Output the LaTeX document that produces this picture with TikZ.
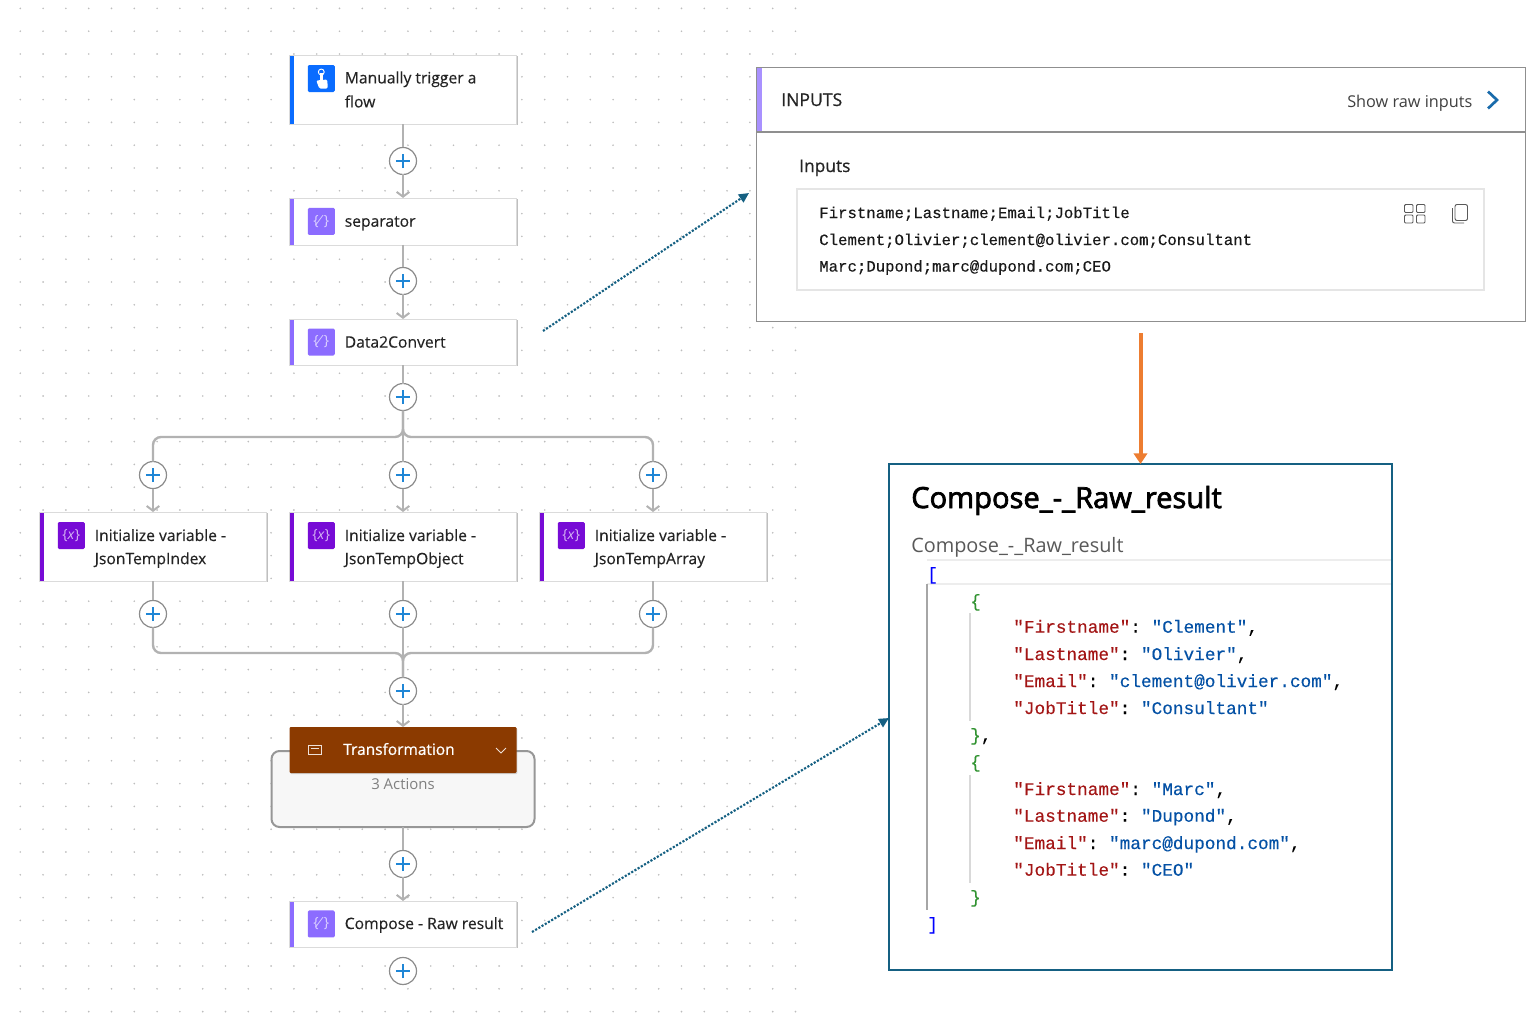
\documentclass[tikz,border=0pt]{standalone}
\usepackage{fontspec}
\setmainfont{Open Sans}
\newfontfamily\monofont{Liberation Mono}[FakeBold=0.25]
\newfontfamily\cardfont{Open Sans}[FakeBold=0.3]
\newfontfamily\medfont{Open Sans}[FakeBold=0.7]
\newfontfamily\titlefont{Open Sans}[FakeBold=2.5]
\usepackage{xcolor}
\usetikzlibrary{arrows.meta, positioning, shadows}
\definecolor{flowGray}{HTML}{B2B2B2}
\definecolor{flowRing}{HTML}{8C8C8C}
\definecolor{flowPlus}{HTML}{1F86D6}
\definecolor{flowDot}{HTML}{BDBDBD}
\definecolor{flowText}{HTML}{242424}
\definecolor{trigBlue}{HTML}{0A6CFF}
\definecolor{compLilac}{HTML}{8C6CFF}
\definecolor{varPurple}{HTML}{770BD6}
\definecolor{scopeBrown}{HTML}{8B3A00}
\definecolor{linkTeal}{HTML}{156082}
\definecolor{arrowOrange}{HTML}{ED7D31}
\definecolor{panelGray}{HTML}{8F8F8F}
\definecolor{jsonKey}{HTML}{A31515}
\definecolor{jsonVal}{HTML}{0451A5}
\definecolor{jsonBrace}{HTML}{319331}
\newcommand{\jkey}[1]{\textcolor{jsonKey}{#1}}
\newcommand{\jval}[1]{\textcolor{jsonVal}{#1}}
\begin{document}
\begin{tikzpicture}[
  x=0.75pt, y=-0.75pt,
  cardbox/.style={
    rectangle, draw=black!14, fill=white, line width=0.5pt,
    minimum width=170.25pt, inner sep=0pt, outer sep=0pt,
    drop shadow={opacity=0.5, shadow xshift=0.8pt, shadow yshift=-1pt},
    path picture={
      \fill[#1] (path picture bounding box.north west) rectangle
        ([xshift=3.4pt]path picture bounding box.south west);
    },
  },
  tallcard/.style={cardbox=#1, minimum height=51.75pt},
  flatcard/.style={cardbox=#1, minimum height=35pt},
  cardlab/.style={
    inner sep=0pt, align=left,
    font=\cardfont\fontsize{11.75pt}{17.4pt}\selectfont\color{flowText},
  },
  iconbox/.style={
    rectangle, rounded corners=1pt, fill=#1, minimum size=20.25pt, inner sep=0pt,
    font=\fontsize{10.5pt}{10.5pt}\selectfont\color{white!70!#1},
  },
  plusbtn/.style={
    circle, draw=flowRing, fill=white, line width=0.9pt,
    minimum size=20.25pt, inner sep=0pt, outer sep=0pt,
    path picture={
      \draw[flowPlus, line width=1.25pt]
        ([xshift=-5.4pt]path picture bounding box.center) -- ([xshift=5.4pt]path picture bounding box.center)
        ([yshift=-5.4pt]path picture bounding box.center) -- ([yshift=5.4pt]path picture bounding box.center);
    },
  },
  flowline/.style={draw=flowGray, line width=1.8pt, rounded corners=6pt},
  flowarrow/.style={draw=flowGray, line width=1.8pt, -{Straight Barb[length=3.6pt, width=9.5pt, line width=1.5pt]}},
  linkarrow/.style={draw=linkTeal, line width=1.6pt, dash pattern=on 1.6pt off 1.2pt, -{Triangle[length=7.5pt, width=7pt, fill=linkTeal]}},
  codeline/.style={anchor=base west, inner sep=0pt, font=\monofont\fontsize{13.3pt}{13.3pt}\selectfont\frenchspacing},
  rawline/.style={anchor=base west, inner sep=0pt, font=\monofont\fontsize{11.76pt}{11.76pt}\selectfont\color{black!90}},
  plainlab/.style={anchor=base west, inner sep=0pt, text=flowText},
]
\useasboundingbox (0,0) rectangle (1540,1014);

% Canvas dots
\foreach \i in {0,...,34} {
  \foreach \j in {0,...,44} {
    \fill[flowDot] (20.3+22.8*\i, 8.4+22.8*\j) circle (0.7pt);
  }
}

% Main column
\node[tallcard=trigBlue] (trigcard) at (403,89.5) {};
\node[plusbtn, below=17.6pt of trigcard] (plusA) {};
\node[flatcard=compLilac, below=17.6pt of plusA, minimum height=35.25pt] (sepcard) {};
\node[plusbtn, below=16.9pt of sepcard] (plusB) {};
\node[flatcard=compLilac, below=18.4pt of plusB, minimum height=34.5pt] (datacard) {};
\node[plusbtn, below=13.9pt of datacard] (plusC) {};

% Three variables
\node[plusbtn, below=38.25pt of plusC] (plusMidA) {};
\node[tallcard=varPurple, below=17.6pt of plusMidA] (objcard) {};
\node[tallcard=varPurple, left=17.25pt of objcard] (idxcard) {};
\node[tallcard=varPurple, right=17.25pt of objcard] (arrcard) {};
\node[plusbtn, above=17.6pt of idxcard] (plusLeftA) {};
\node[plusbtn, above=17.6pt of arrcard] (plusRightA) {};
\node[plusbtn, below=14.6pt of objcard] (plusMidB) {};
\node[plusbtn, below=14.6pt of idxcard] (plusLeftB) {};
\node[plusbtn, below=14.6pt of arrcard] (plusRightB) {};
\node[plusbtn, below=37.5pt of plusMidB] (plusD) {};
\coordinate (splitpt) at (403,437);
\coordinate (mergept) at (403,653);

% Transformation scope
\node[below=34.9pt of plusD, rectangle, rounded corners=6pt, draw=flowRing!90, fill=black!3, line width=1.5pt,
  minimum width=197.25pt, minimum height=57pt, inner sep=0pt, outer sep=0pt] (scopebox) {};
\node[rectangle, rounded corners=0.8pt, fill=scopeBrown, minimum width=170.25pt, minimum height=34.5pt, inner sep=0pt, outer sep=0pt,
  drop shadow={opacity=0.3, shadow xshift=0.6pt, shadow yshift=-0.8pt}] (scopehead) at (403,750) {};
\node[inner sep=0pt, font=\medfont\fontsize{11.6pt}{11.6pt}\selectfont\color{white}] (scopelab) at (399,749) {Transformation};
\node[inner sep=0pt, font=\fontsize{11.2pt}{11.2pt}\selectfont\color{black!50}] (scopecount) at (403,784) {3 Actions};
\node[plusbtn, below=17.6pt of scopebox] (plusE) {};
\node[flatcard=compLilac, below=17.6pt of plusE, minimum height=34.5pt] (compcard) {};
\node[plusbtn, below=7.9pt of compcard] (plusF) {};
\draw[white!85!scopeBrown, line width=0.7pt] (308,745.5) rectangle (321,754.5) (310.5,748.5) -- (318.5,748.5);
\draw[white!85!scopeBrown, line width=0.7pt] (496,748) -- (501,753) -- (506,748);

% Icons and labels
\node[iconbox=trigBlue, right=13.5pt of trigcard.west, yshift=8.25pt] (trigicon) {};
\begin{scope}[shift={(trigicon.center)}]
  \draw[white, line width=0.7pt] (0,-6.5) circle (2.2pt);
  \fill[white] (-1.6,-6) rectangle (1.6,3);
  \fill[white, rounded corners=1pt] (-5,2) -- (6,1) -- (6.5,10) -- (-2,10) -- cycle;
\end{scope}
\node[cardlab, right=41.25pt of trigcard.west, font=\cardfont\fontsize{11.75pt}{18pt}\selectfont\color{flowText}] (triglab) {Manually trigger a\\flow};
\node[iconbox=compLilac, right=13.5pt of sepcard.west] (sepicon) {\{\textit{⁄}\}};
\node[cardlab, right=41.25pt of sepcard.west, yshift=-1.5pt] (seplab) {separator};
\node[iconbox=compLilac, right=13.5pt of datacard.west] (dataicon) {\{\textit{⁄}\}};
\node[cardlab, right=41.25pt of datacard.west] (datalab) {Data2Convert};
\node[iconbox=varPurple, right=13.5pt of idxcard.west, yshift=8.25pt] (idxicon) {\{\textit{x}\}};
\node[cardlab, right=41.25pt of idxcard.west, yshift=-1.5pt] (idxlab) {Initialize variable -\\JsonTempIndex};
\node[iconbox=varPurple, right=13.5pt of objcard.west, yshift=8.25pt] (objicon) {\{\textit{x}\}};
\node[cardlab, right=41.25pt of objcard.west, yshift=-1.5pt] (objlab) {Initialize variable -\\JsonTempObject};
\node[iconbox=varPurple, right=13.5pt of arrcard.west, yshift=8.25pt] (arricon) {\{\textit{x}\}};
\node[cardlab, right=41.25pt of arrcard.west, yshift=-1.5pt] (arrlab) {Initialize variable -\\JsonTempArray};
\node[iconbox=compLilac, right=13.5pt of compcard.west] (compicon) {\{\textit{⁄}\}};
\node[cardlab, right=41.25pt of compcard.west, yshift=-0.75pt] (complab) {Compose - Raw result};

% Connectors
\draw[flowline] (trigcard) -- (plusA);
\draw[flowarrow] (plusA) -- (sepcard);
\draw[flowline] (sepcard) -- (plusB);
\draw[flowarrow] (plusB) -- (datacard);
\draw[flowline] (datacard) -- (plusC);
\draw[flowline] (plusC) -- (plusMidA);
\draw[flowline] (plusC.south) -- (splitpt) -| (plusLeftA.north);
\draw[flowline] (plusC.south) -- (splitpt) -| (plusRightA.north);
\draw[flowarrow] (plusLeftA) -- (idxcard);
\draw[flowarrow] (plusMidA) -- (objcard);
\draw[flowarrow] (plusRightA) -- (arrcard);
\draw[flowline] (idxcard) -- (plusLeftB);
\draw[flowline] (objcard) -- (plusMidB);
\draw[flowline] (arrcard) -- (plusRightB);
\draw[flowline] (plusLeftB.south) |- (mergept) -- (plusD.north);
\draw[flowline] (plusRightB.south) |- (mergept) -- (plusD.north);
\draw[flowline] (plusMidB) -- (plusD);
\draw[flowarrow] (plusD) -- (scopehead);
\draw[flowline] (scopebox) -- (plusE);
\draw[flowarrow] (plusE) -- (compcard);

% Inputs panel
\node[rectangle, draw=panelGray, fill=white, line width=0.7pt, minimum width=576.75pt, minimum height=190.5pt, inner sep=0pt, outer sep=0pt]
  (inputpanel) at (1140.5,194) {};
\fill[compLilac!75] (756.5,67.5) rectangle (762,132);
\draw[panelGray, line width=1.1pt] (inputpanel.west |- 0,132) -- (inputpanel.east |- 0,132);
\node[plainlab, font=\medfont\fontsize{13.2pt}{13.2pt}\selectfont] (inputhead) at (781,106) {INPUTS};
\node[plainlab, font=\fontsize{12.2pt}{12.2pt}\selectfont, text=black!75] (rawlink) at (1347,107.5) {Show raw inputs};
\draw[flowPlus!80!black, line width=2pt] (1488,91.5) -- (1497,100) -- (1488,108.5);
\node[plainlab, font=\medfont\fontsize{13pt}{13pt}\selectfont] (inputlab) at (799,172) {Inputs};
\node[rectangle, draw=black!10, line width=0.8pt, minimum width=515.25pt, minimum height=75.75pt, inner sep=0pt] (rawbox) at (1140.5,239.5) {};
\node[rawline] (rawA) at (819,218) {Firstname;Lastname;Email;JobTitle};
\node[rawline] (rawB) at (819,245) {Clement;Olivier;clement@olivier.com;Consultant};
\node[rawline] (rawC) at (819,271.5) {Marc;Dupond;marc@dupond.com;CEO};
\draw[black!65, line width=0.7pt, rounded corners=0.8pt]
  (1404.5,204.5) rectangle (1413,212.5) (1416.5,204.5) rectangle (1425,212.5)
  (1404.5,215) rectangle (1413,223) (1416.5,215) rectangle (1425,223);
\draw[black!65, line width=0.7pt, rounded corners=1.5pt] (1455,204.5) rectangle (1467.5,220.5);
\draw[black!65, line width=0.7pt, rounded corners=1.5pt] (1452.5,208) -- (1452.5,223) -- (1464,223);

% Compose panel
\node[rectangle, draw=linkTeal, fill=white, line width=1.4pt, minimum width=377.25pt, minimum height=379.5pt, inner sep=0pt, outer sep=0pt]
  (outpanel) at (1140.5,717) {};
\node[plainlab, font=\titlefont\fontsize{21.8pt}{21.8pt}\selectfont, text=black] (outtitle) at (911,508) {Compose\_-\_Raw\_result};
\node[plainlab, font=\fontsize{14.9pt}{14.9pt}\selectfont, text=black!65] (outsub) at (911,552) {Compose\_-\_Raw\_result};
\draw[black!7, line width=1.4pt] (927,560) -- (1391,560) (927,584) -- (1391,584);
\draw[black!35, line width=1pt] (927,584) -- (927,910);
\draw[black!15, line width=1pt] (970,613) -- (970,721) (970,775) -- (970,883);

% Json text
\node[codeline, text=blue] (jsonopen) at (927,580) {[};
\node[codeline, text=jsonBrace] (braceA) at (970,607) {\{};
\node[codeline] (keyA) at (1013,632.7) {\jkey{"Firstname"}: \jval{"Clement"},};
\node[codeline] (keyB) at (1013,660) {\jkey{"Lastname"}: \jval{"Olivier"},};
\node[codeline] (keyC) at (1013,687) {\jkey{"Email"}: \jval{"clement@olivier.com"},};
\node[codeline] (keyD) at (1013,714) {\jkey{"JobTitle"}: \jval{"Consultant"}};
\node[codeline] (braceB) at (970,741) {\textcolor{jsonBrace}{\}},};
\node[codeline, text=jsonBrace] (braceC) at (970,768) {\{};
\node[codeline] (keyE) at (1013,795) {\jkey{"Firstname"}: \jval{"Marc"},};
\node[codeline] (keyF) at (1013,821.7) {\jkey{"Lastname"}: \jval{"Dupond"},};
\node[codeline] (keyG) at (1013,849) {\jkey{"Email"}: \jval{"marc@dupond.com"},};
\node[codeline] (keyH) at (1013,875.7) {\jkey{"JobTitle"}: \jval{"CEO"}};
\node[codeline, text=jsonBrace] (braceD) at (970,903) {\}};
\node[codeline, text=blue] (jsonclose) at (927,930) {]};

% Arrows between panels
\coordinate (orangestart) at (1140.5,333);
\coordinate (datanote) at (543,331);
\coordinate (inputnote) at (749,193);
\coordinate (compnote) at (532,932);
\coordinate (outnote) at (889,718);
\draw[linkarrow] (datanote) -- (inputnote);
\draw[linkarrow] (compnote) -- (outnote);
\draw[draw=arrowOrange, line width=3pt, -{Triangle[length=8pt, width=10pt]}] (orangestart) -- (outpanel.north);
\end{tikzpicture}
\end{document}
